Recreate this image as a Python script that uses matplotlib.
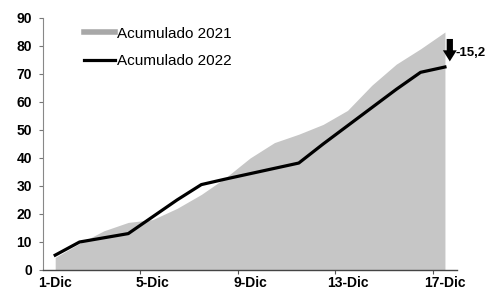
import numpy as np
import matplotlib
matplotlib.use('Agg')
from matplotlib import pyplot as plt
from matplotlib.lines import Line2D

plt.rcParams['font.family'] = ['Liberation Sans', 'DejaVu Sans']

# datos
dias = list(range(1, 18))
etiquetas = ['1-Dic', '5-Dic', '9-Dic', '13-Dic', '17-Dic']
acum_2021 = [4.5, 9.5, 14, 17, 18, 22, 27, 33, 40, 45.5, 48.5, 52, 57, 66, 73.5, 79, 85]
acum_2022 = [5.3, 10, 11.5, 13, 19, 25, 30.5, 32.5, 34.4, 36.3, 38.2, 45, 51.5, 58, 64.5, 70.6, 72.5]
variacion = '-15,2'

fig = plt.figure(figsize=(4.91, 2.93), dpi=100)
ax = fig.add_axes([0.0876, 0.0785, 0.8434, 0.8601])

ax.fill_between(dias, 0, acum_2021, color='#c6c6c6', linewidth=0, zorder=1)
ax.plot(dias, acum_2022, color='black', linewidth=2.3, zorder=3)

ax.set_xlim(0.5, 17.5)
ax.set_ylim(0, 90)
ax.set_yticks(range(0, 91, 10))
ax.set_yticklabels([str(v) for v in range(0, 91, 10)], fontsize=10, fontweight='bold')
ax.tick_params(axis='y', length=3, width=0.8, color='#777777', pad=5)

# etiquetas en el centro de la categoria, marcas entre categorias
ax.set_xticks([1, 5, 9, 13, 17])
ax.set_xticklabels(etiquetas, fontsize=10, fontweight='bold')
ax.tick_params(axis='x', length=0, pad=4)
ax.set_xticks([4.5, 8.5, 12.5, 16.5], minor=True)
ax.tick_params(axis='x', which='minor', length=3, width=0.8, color='#555555')

for s in ['top', 'right']:
    ax.spines[s].set_visible(False)
ax.spines['left'].set_color('#888888')
ax.spines['left'].set_linewidth(0.8)
ax.spines['bottom'].set_color('#444444')
ax.spines['bottom'].set_linewidth(1.0)

# flecha y variación
ax.annotate('', xy=(17.2, 73.5), xytext=(17.2, 83.5),
            arrowprops=dict(arrowstyle='simple,head_length=0.8,head_width=1.0,tail_width=0.45',
                            color='black', lw=0),
            annotation_clip=False)
ax.text(17.45, 77.5, variacion, fontsize=9.5, fontweight='bold', ha='left', va='center',
        clip_on=False)

handles = [Line2D([], [], color='#a8a8a8', linewidth=4),
           Line2D([], [], color='black', linewidth=2.3)]
ax.legend(handles, ['Acumulado 2021', 'Acumulado 2022'], loc='upper left',
          bbox_to_anchor=(0.1, 0.966), frameon=False, fontsize=11,
          handlelength=2.0, handletextpad=0.1, labelspacing=0.88,
          borderpad=0, borderaxespad=0)

fig.savefig('out.png', dpi=100, facecolor='white')
